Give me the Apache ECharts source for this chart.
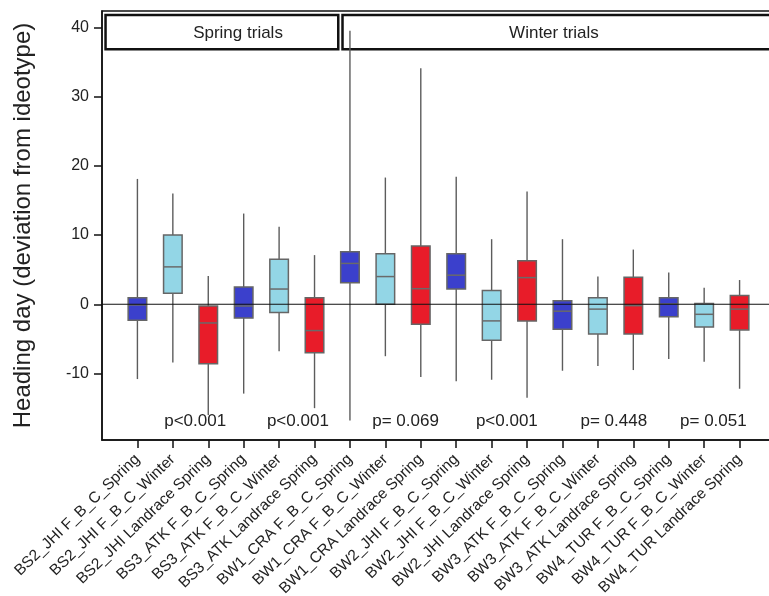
<!DOCTYPE html>
<html>
<head>
<meta charset="utf-8">
<script src="https://cdn.jsdelivr.net/npm/echarts@6/dist/echarts.min.js"></script>
<style>
  html, body { margin: 0; padding: 0; background: #ffffff; }
  #chart { width: 769px; height: 596px; }
</style>
</head>
<body>
<div id="chart"></div>
<script>
// Heading date deviation from the ideotype, per trial and germplasm group
const categories = [
  'BS2_JHI F_B_C_Spring', 'BS2_JHI F_B_C_Winter', 'BS2_JHI Landrace Spring',
  'BS3_ATK F_B_C_Spring', 'BS3_ATK F_B_C_Winter', 'BS3_ATK Landrace Spring',
  'BW1_CRA F_B_C_Spring', 'BW1_CRA F_B_C_Winter', 'BW1_CRA Landrace Spring',
  'BW2_JHI F_B_C_Spring', 'BW2_JHI F_B_C_Winter', 'BW2_JHI Landrace Spring',
  'BW3_ATK F_B_C_Spring', 'BW3_ATK F_B_C_Winter', 'BW3_ATK Landrace Spring',
  'BW4_TUR F_B_C_Spring', 'BW4_TUR F_B_C_Winter', 'BW4_TUR Landrace Spring'
];
const whiskerLow  = [-10.8, -8.4, -16.0, -12.9, -6.8, -15.0, -16.8, -7.5, -10.5, -11.1, -10.9, -13.5, -9.6, -8.9, -9.5, -7.9, -8.3, -12.2];
const quartile1   = [-2.3, 1.6, -8.6, -2.0, -1.2, -7.0, 3.1, 0.0, -2.9, 2.2, -5.2, -2.4, -3.6, -4.3, -4.3, -1.8, -3.3, -3.7];
const medians     = [-0.1, 5.4, -2.7, -0.25, 2.2, -3.8, 5.9, 4.0, 2.25, 4.2, -2.4, 3.85, -1.0, -0.7, -0.2, 0.05, -1.45, -0.7];
const quartile3   = [0.95, 10.0, -0.25, 2.5, 6.5, 0.95, 7.6, 7.3, 8.4, 7.3, 2.0, 6.3, 0.5, 0.95, 3.9, 0.95, 0.1, 1.25];
const whiskerHigh = [18.1, 16.0, 4.1, 13.1, 11.2, 7.1, 39.5, 18.3, 34.1, 18.4, 9.4, 16.3, 9.4, 4.0, 7.9, 4.6, 2.4, 3.5];

const pValues = ['p<0.001', 'p<0.001', 'p= 0.069', 'p<0.001', 'p= 0.448', 'p= 0.051'];
const panelTitles = ['Spring trials', 'Winter trials'];
const yTicks = [-10, 0, 10, 20, 30, 40];

const FONT = 'Liberation Sans, Arial, Helvetica, sans-serif';
const groupColor = name => {
  if (name.indexOf('Landrace') >= 0) return '#e81c29';
  if (name.indexOf('Winter') >= 0) return '#93d6e6';
  return '#3b40cc';
};

const positions = categories.map((_, i) => i + 1);
const boxData = categories.map((_, i) => [
  positions[i], whiskerLow[i], quartile1[i], medians[i], quartile3[i], whiskerHigh[i]
]);

// label placement along the x scale (between the box groups)
const pLabelX = [2.63, 5.53, 8.57, 11.43, 14.45, 17.26];
const pLabelY = -16.95;
const pData = pValues.map((t, i) => [pLabelX[i], pLabelY, t]);

// header strips, in axis units: [left, right, top, bottom, title x]
const stripData = [
  [0.1, 6.67, 41.78, 36.82, 3.84],
  [6.79, 19.8, 41.78, 36.82, 12.76]
];

const chart = echarts.init(document.getElementById('chart'), null, { renderer: 'canvas' });

chart.setOption({
  animation: false,
  backgroundColor: '#ffffff',
  grid: {
    left: 102, right: -6, top: 11, bottom: 156,
    outerBoundsMode: 'none',
    containLabel: false,
    show: true, borderColor: '#111', borderWidth: 1.5, backgroundColor: 'transparent'
  },
  xAxis: {
    type: 'value', min: 0, max: 19,
    splitLine: { show: false },
    axisLine: { show: true, onZero: false, lineStyle: { color: '#111', width: 1.5 } },
    axisTick: { show: true, length: 8, lineStyle: { color: '#111', width: 1.5 }, customValues: positions },
    axisLabel: {
      customValues: positions,
      formatter: v => categories[Math.round(v) - 1] || '',
      rotate: 44, margin: 17,
      fontFamily: FONT, fontSize: 15.5, color: '#222'
    }
  },
  yAxis: {
    type: 'value', min: -19.6, max: 42.35,
    name: 'Heading day (deviation from ideotype)',
    nameLocation: 'middle', nameGap: 67,
    nameTextStyle: { fontFamily: FONT, fontSize: 24, color: '#222' },
    splitLine: { show: false },
    axisLine: { show: true, onZero: false, lineStyle: { color: '#111', width: 1.5 } },
    axisTick: { show: true, length: 8, lineStyle: { color: '#111', width: 1.5 }, customValues: yTicks },
    axisLabel: { customValues: yTicks, margin: 13, fontFamily: FONT, fontSize: 16, color: '#222' }
  },
  series: [
    {
      // panel header strips
      type: 'custom',
      z: 1,
      data: stripData,
      renderItem: (params, api) => {
        const a = api.coord([api.value(0), api.value(2)]);
        const b = api.coord([api.value(1), api.value(3)]);
        const t = api.coord([api.value(4), 0]);
        return {
          type: 'group',
          children: [
            { type: 'rect', shape: { x: a[0], y: a[1], width: b[0] - a[0], height: b[1] - a[1] },
              style: { fill: '#ffffff', stroke: '#111', lineWidth: 2.5 } },
            { type: 'text', style: {
                x: t[0], y: (a[1] + b[1]) / 2 + 1,
                text: panelTitles[params.dataIndex],
                align: 'center', verticalAlign: 'middle',
                font: '17px ' + FONT, fill: '#222' } }
          ]
        };
      }
    },
    {
      // whiskers + interquartile boxes + median bars
      type: 'custom',
      z: 2,
      data: boxData,
      renderItem: (params, api) => {
        const x = api.value(0);
        const lo = api.coord([x, api.value(1)]);
        const b1 = api.coord([x, api.value(2)]);
        const md = api.coord([x, api.value(3)]);
        const b3 = api.coord([x, api.value(4)]);
        const hi = api.coord([x, api.value(5)]);
        const half = api.size([1, 0])[0] * 0.262;
        const color = groupColor(categories[params.dataIndex]);
        return {
          type: 'group',
          children: [
            { type: 'line', shape: { x1: lo[0], y1: lo[1], x2: hi[0], y2: hi[1] },
              style: { stroke: '#5c5c5c', lineWidth: 1.4 } },
            { type: 'rect', shape: { x: b3[0] - half, y: b3[1], width: half * 2, height: b1[1] - b3[1] },
              style: { fill: color, stroke: '#666', lineWidth: 1.5 } },
            { type: 'line', shape: { x1: md[0] - half, y1: md[1], x2: md[0] + half, y2: md[1] },
              style: { stroke: '#6a6a6a', lineWidth: 1.5 } }
          ]
        };
      }
    },
    {
      // zero reference line
      type: 'line',
      z: 3,
      data: [[0, 0], [19, 0]],
      symbol: 'none',
      silent: true,
      lineStyle: { color: '#111', width: 1.2 }
    },
    {
      // p-values of each trial
      type: 'custom',
      z: 4,
      data: pData,
      renderItem: (params, api) => {
        const p = api.coord([api.value(0), api.value(1)]);
        return {
          type: 'text',
          style: {
            x: p[0], y: p[1], text: pValues[params.dataIndex],
            align: 'center', verticalAlign: 'middle',
            font: '17px ' + FONT, fill: '#222'
          }
        };
      }
    }
  ]
});
</script>
</body>
</html>
